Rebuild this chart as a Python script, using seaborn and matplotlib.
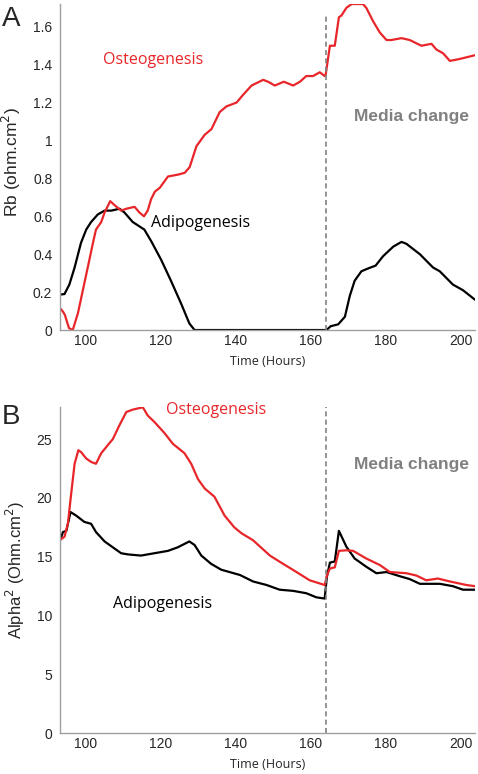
import matplotlib
matplotlib.use("Agg")
import matplotlib.pyplot as plt
import seaborn as sns
import pandas as pd

# Panel A: Rb (ohm.cm2) over time
a_osteo_t = [92.5, 93.9, 94.4, 95.5, 96.5, 97.9, 99.2, 100.5, 101.9, 102.7, 104.1, 105.0, 106.5,
             107.6, 109.4, 110.8, 113.0, 114.3, 115.5, 116.5, 117.4, 118.4, 119.7, 121.9, 124.6,
             126.4, 127.7, 129.5, 131.7, 133.5, 135.7, 137.5, 140.2, 141.9, 144.2, 147.3, 148.6,
             150.4, 152.8, 155.3, 157.1, 158.8, 160.6, 162.4, 163.7, 164.0, 165.1, 166.4, 167.5,
             168.2, 169.5, 170.9, 173.9, 174.8, 176.6, 178.4, 180.2, 181.5, 184.2, 186.4, 189.5,
             192.2, 193.5, 195.3, 197.1, 199.7, 203.8]
a_osteo_v = [0.13, 0.097, 0.08, 0.01, 0.0, 0.09, 0.21, 0.33, 0.46, 0.53, 0.57, 0.62, 0.68,
             0.66, 0.63, 0.64, 0.65, 0.62, 0.60, 0.63, 0.69, 0.73, 0.75, 0.81, 0.82,
             0.83, 0.86, 0.97, 1.03, 1.06, 1.15, 1.18, 1.20, 1.24, 1.29, 1.32, 1.31,
             1.29, 1.31, 1.29, 1.31, 1.34, 1.34, 1.36, 1.34, 1.35, 1.50, 1.50, 1.65,
             1.66, 1.70, 1.72, 1.72, 1.70, 1.63, 1.57, 1.53, 1.53, 1.54, 1.53, 1.50,
             1.51, 1.48, 1.46, 1.42, 1.43, 1.45]

a_adipo_t = [92.5, 94.3, 95.6, 97.0, 98.7, 100.1, 101.4, 103.2, 105.0, 106.8, 109.0, 110.3, 112.5,
             115.6, 117.4, 120.1, 122.7, 125.4, 127.6, 129.0, 164.2, 165.3, 167.3, 169.1, 170.4,
             171.7, 173.5, 175.3, 177.3, 179.3, 182.0, 184.2, 185.5, 189.1, 192.6, 194.4, 197.9,
             200.6, 203.8]
a_adipo_v = [0.185, 0.19, 0.24, 0.33, 0.46, 0.53, 0.57, 0.61, 0.63, 0.63, 0.64, 0.62, 0.57,
             0.53, 0.47, 0.37, 0.26, 0.14, 0.035, 0.0, 0.0, 0.02, 0.03, 0.07, 0.18,
             0.26, 0.31, 0.325, 0.34, 0.39, 0.44, 0.465, 0.455, 0.40, 0.33, 0.31, 0.24,
             0.21, 0.16]

# Panel B: Alpha2 (Ohm.cm2) over time
b_osteo_t = [93.0, 94.3, 95.2, 96.1, 97.0, 98.0, 98.7, 100.1, 101.4, 102.7, 104.1, 105.9, 107.2,
             109.0, 110.8, 112.5, 115.2, 116.5, 118.3, 121.0, 123.2, 126.3, 128.1, 129.9, 131.7,
             134.3, 137.0, 139.6, 141.5, 144.6, 149.1, 152.6, 156.2, 159.7, 163.7, 164.3, 165.1,
             166.4, 167.5, 169.5, 171.3, 174.8, 178.4, 181.1, 185.5, 188.2, 190.8, 193.9, 197.1,
             201.5, 203.8]
b_osteo_v = [16.4, 16.7, 17.8, 20.4, 22.9, 24.05, 23.9, 23.35, 23.06, 22.9, 23.8, 24.5, 25.0,
             26.2, 27.3, 27.5, 27.7, 27.0, 26.45, 25.5, 24.6, 23.8, 22.9, 21.6, 20.8,
             20.1, 18.5, 17.5, 17.0, 16.4, 15.1, 14.4, 13.7, 13.0, 12.6, 13.4, 14.0,
             14.1, 15.5, 15.55, 15.5, 14.85, 14.3, 13.7, 13.6, 13.4, 13.0, 13.15, 12.9,
             12.6, 12.5]

b_adipo_t = [93.0, 93.9, 94.8, 95.9, 97.4, 99.6, 101.4, 102.7, 105.0, 107.2, 109.4, 111.2, 114.7,
             118.3, 121.9, 124.5, 127.6, 129.0, 130.8, 133.4, 136.1, 141.1, 144.6, 148.2, 151.7,
             155.3, 158.8, 161.5, 163.7, 164.3, 165.1, 166.4, 167.5, 169.5, 171.7, 174.8, 177.5,
             180.2, 183.7, 186.4, 189.1, 194.4, 197.9, 200.6, 203.8]
b_adipo_v = [16.3, 17.1, 17.2, 18.8, 18.5, 17.96, 17.8, 17.1, 16.3, 15.8, 15.3, 15.2, 15.1,
             15.3, 15.5, 15.8, 16.3, 16.0, 15.1, 14.4, 13.9, 13.45, 12.9, 12.6, 12.2,
             12.1, 11.9, 11.55, 11.45, 13.3, 14.5, 14.6, 17.2, 15.85, 14.85, 14.15, 13.6,
             13.7, 13.35, 13.1, 12.7, 12.7, 12.5, 12.2, 12.2]

media_change_t = 164
x_ticks = [100, 120, 140, 160, 180, 200]
a_yticks = [0, 0.2, 0.4, 0.6, 0.8, 1, 1.2, 1.4, 1.6]
a_yticklabels = ["0", "0.2", "0.4", "0.6", "0.8", "1", "1.2", "1.4", "1.6"]
b_yticks = [0, 5, 10, 15, 20, 25]

sns.set_style("white")
plt.rcParams['font.family'] = ['Liberation Sans', 'DejaVu Sans']

RED = "#e8262a"
GREY = "#808080"
SPINE = "#a0a0a0"
HUMANIST = ["Open Sans", "DejaVu Sans"]

fig = plt.figure(figsize=(4.78, 7.74), dpi=100)
axA = fig.add_axes([0.1255, 0.5736, 0.8682, 0.4212])
axB = fig.add_axes([0.1255, 0.0526, 0.8682, 0.4212])


def draw_panel(ax, ot, ov, at, av):
    df_o = pd.DataFrame({"t": ot, "v": ov})
    df_a = pd.DataFrame({"t": at, "v": av})
    sns.lineplot(data=df_a, x="t", y="v", ax=ax, color="black", linewidth=1.6)
    sns.lineplot(data=df_o, x="t", y="v", ax=ax, color=RED, linewidth=1.6)
    ax.set_xlim(93.1, 203.8)
    ax.set_xticks(x_ticks)
    for s in ["top", "right"]:
        ax.spines[s].set_visible(False)
    for s in ["left", "bottom"]:
        ax.spines[s].set_color(SPINE)
        ax.spines[s].set_linewidth(1.0)
    ax.tick_params(axis="x", direction="in", length=4, color=SPINE, labelsize=10, pad=3)
    ax.tick_params(axis="y", direction="inout", length=5, color=SPINE, labelsize=10, pad=3)
    ax.set_xlabel("Time (Hours)", family=HUMANIST, fontsize=9, labelpad=5)


draw_panel(axA, a_osteo_t, a_osteo_v, a_adipo_t, a_adipo_v)
axA.set_ylim(0, 1.72)
axA.set_yticks(a_yticks)
axA.set_yticklabels(a_yticklabels)
axA.set_ylabel("Rb (ohm.cm$^2$)", fontsize=12.5)
axA.yaxis.set_label_coords(-0.089, 0.515)
axA.axvline(media_change_t, ymax=0.965, color=GREY, linestyle=(0, (3, 2)), linewidth=1.2)
axA.text(104.5, 1.425, "Osteogenesis", color=RED, fontsize=11.5, va="center", family=HUMANIST)
axA.text(117.3, 0.565, "Adipogenesis", color="black", fontsize=11.5, va="center", family=HUMANIST)
axA.text(171.5, 1.124, "Media change", color=GREY, fontsize=12.5, fontweight="bold", va="center")

draw_panel(axB, b_osteo_t, b_osteo_v, b_adipo_t, b_adipo_v)
axB.set_ylim(0, 27.7)
axB.set_yticks(b_yticks)
axB.set_ylabel("Alpha$^2$ (Ohm.cm$^2$)", fontsize=12)
axB.yaxis.set_label_coords(-0.08, 0.5)
axB.axvline(media_change_t, ymax=1.0, color=GREY, linestyle=(0, (3, 2)), linewidth=1.2)
axB.text(121.3, 27.45, "Osteogenesis", color=RED, fontsize=11.5, va="center", family=HUMANIST)
axB.text(107.2, 11.0, "Adipogenesis", color="black", fontsize=11.5, va="center", family=HUMANIST)
axB.text(171.5, 22.85, "Media change", color=GREY, fontsize=12.5, fontweight="bold", va="center")

fig.text(0.004, 0.992, "A", fontsize=20, va="top", ha="left")
fig.text(0.004, 0.478, "B", fontsize=20, va="top", ha="left")

fig.savefig("out.png", dpi=100)
